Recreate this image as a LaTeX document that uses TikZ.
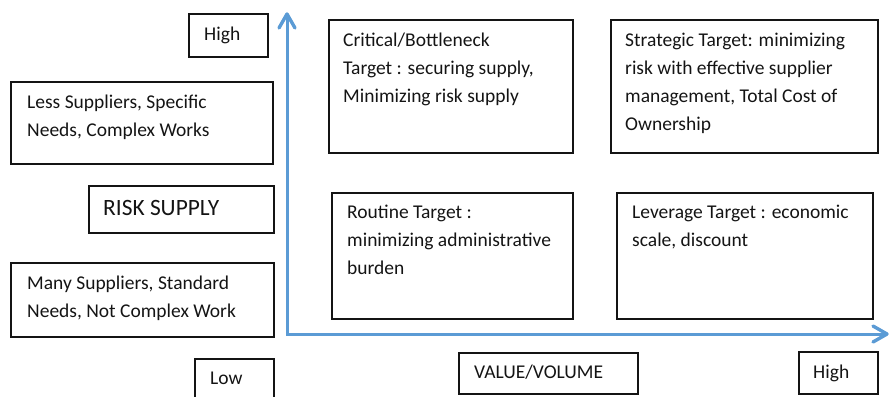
\documentclass[tikz,border=0pt]{standalone}
\usepackage{fontspec}
\setmainfont{Carlito}
\definecolor{axisblue}{RGB}{91,155,213}
\definecolor{inkgray}{RGB}{20,20,20}
\begin{document}
\begin{tikzpicture}[x=1pt,y=-1pt,
  frame/.style={draw=inkgray,line width=1.7pt,rectangle,inner sep=0pt,anchor=north west},
  txt/.style={anchor=north west,inner sep=0pt,align=left,text=inkgray,
    font=\fontsize{19.5}{28}\selectfont},
  axis/.style={draw=axisblue,line width=3pt,line join=miter},
  chevron/.style={draw=axisblue,line width=3.4pt,line join=round,line cap=round}]
\clip (0,0) rectangle (890,396);
\useasboundingbox (0,0) rectangle (890,396);
% boxes: size and top-left corner
\newcommand{\mybox}[5]{\node[frame,minimum width=#4pt,minimum height=#5pt] (#1) at (#2,#3) {};}
\mybox{hi}{188}{13}{79}{43}
\mybox{less}{10}{81}{262}{82}
\mybox{risk}{88}{185}{185}{47}
\mybox{many}{10}{262}{263}{74}
\mybox{low}{194}{358}{79}{50}
\mybox{crit}{328}{19}{244}{133}
\mybox{strat}{610}{19}{267}{133}
\mybox{rout}{331}{192}{241}{126}
\mybox{lev}{616}{192}{256}{126}
\mybox{val}{458}{352}{179}{41}
\mybox{hix}{798}{351}{79}{42}
% labels inside the boxes
\node[txt] (thi) at ([xshift=16pt,yshift=-7.4pt]hi.north west) {\strut High};
\node[txt] (tless) at ([xshift=17pt,yshift=-7.4pt]less.north west) {\strut Less Suppliers, Specific\\Needs, Complex Works};
\node[txt,font=\fontsize{23.4}{30}\selectfont] (trisk) at ([xshift=15pt,yshift=-9pt]risk.north west) {\strut RISK SUPPLY};
\node[txt] (tmany) at ([xshift=17pt,yshift=-7.4pt]many.north west) {\strut Many Suppliers, Standard\\Needs, Not Complex Work};
\node[txt] (tlow) at ([xshift=16pt,yshift=-6.4pt]low.north west) {\strut Low};
\node[txt] (tcrit) at ([xshift=15pt,yshift=-7.4pt]crit.north west) {\strut Critical/Bottleneck\\Target : securing supply,\\Minimizing risk supply};
\node[txt] (tstrat) at ([xshift=15pt,yshift=-7.4pt]strat.north west) {\strut Strategic Target: minimizing\\risk with effective supplier\\management, Total Cost of\\Ownership};
\node[txt] (trout) at ([xshift=16pt,yshift=-6.4pt]rout.north west) {\strut Routine Target :\\minimizing administrative\\burden};
\node[txt] (tlev) at ([xshift=16pt,yshift=-6.4pt]lev.north west) {\strut Leverage Target : economic\\scale, discount};
\node[txt] (tval) at ([xshift=16pt,yshift=-6.4pt]val.north west) {\strut VALUE/VOLUME};
\node[txt] (thix) at ([xshift=15pt,yshift=-7.4pt]hix.north west) {\strut High};
% axes with open arrowheads
\coordinate (origin) at (287,334);
\coordinate (ytip) at (287,14);
\coordinate (xtip) at (887,334);
\draw[axis] (ytip) -- (origin) -- (xtip);
\draw[chevron] ([shift={(-8,14)}]ytip) -- (ytip) -- ([shift={(8,14)}]ytip);
\draw[chevron] ([shift={(-14,-8)}]xtip) -- (xtip) -- ([shift={(-14,8)}]xtip);
\end{tikzpicture}
\end{document}
